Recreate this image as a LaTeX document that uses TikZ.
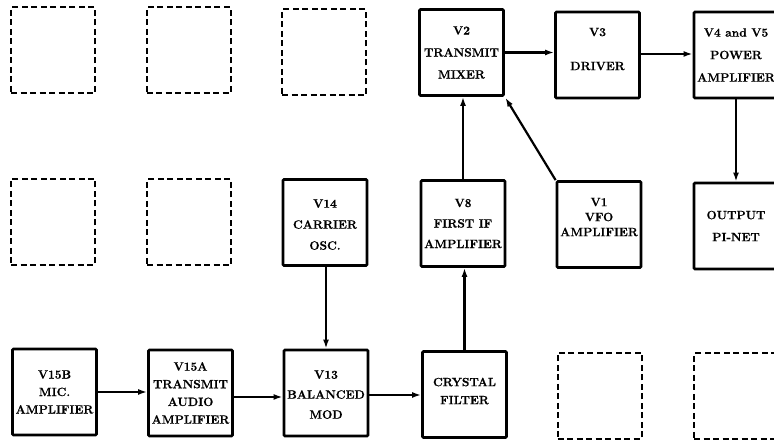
\documentclass[tikz,border=0pt]{standalone}
\usepackage{fontspec}
\setmainfont{Latin Modern Roman}[BoldFeatures={FakeBold=0.8}]
\usetikzlibrary{arrows.meta}
\newcommand\mydp[1]{\rule[-#1]{0pt}{#1}}
\newcommand\myht[1]{\rule{0pt}{#1}}
\tikzset{
  x=1pt, y=1pt,
  blk/.style={draw, line width=2.8pt, rounded corners=1pt, minimum width=84pt, minimum height=86pt, align=center, inner sep=0pt},
  dbox/.style={draw, line width=2pt, dash pattern=on 6pt off 3.5pt, minimum width=84pt, minimum height=86pt, inner sep=0pt},
  ls/.style={font=\fontsize{12}{#1}\selectfont\bfseries},
  conn/.style={line width=2.2pt, -{Latex[length=9pt,width=6pt]}}
}
\begin{document}
\begin{tikzpicture}
\useasboundingbox (0,0) rectangle (774,443);
% dashed placeholders
\node[dbox] (d1) at (53,392.5) {};
\node[dbox] (d2) at (188.5,392.5) {};
\node[dbox] (d3) at (324,390.5) {};
\node[dbox] (d4) at (53,221) {};
\node[dbox] (d5) at (189,220.5) {};
\node[dbox] (d6) at (599.5,47) {};
\node[dbox] (d7) at (736,46.5) {};
% solid blocks
\node[blk, ls=22] (v2) at (461.5,390.5) {V2\\TRANSMIT\\MIXER};
\node[blk, ls=34] (v3) at (597.5,388) {V3\\DRIVER\mydp{12pt}};
\node[blk, ls=22.5] (v45) at (736,388) {V4 and V5\\POWER\\AMPLIFIER};
\node[blk, ls=21] (v14) at (325,220.5) {\myht{12.5pt}V14\\CARRIER\\OSC.};
\node[blk, ls=20.5] (v8) at (463,219.5) {V8\\FIRST IF\\AMPLIFIER};
\node[blk, ls=15] (v1) at (599,218.5) {V1\\VFO\\AMPLIFIER\mydp{15pt}};
\node[blk, ls=22] (out) at (736,217) {OUTPUT\\PI-NET};
\node[blk, ls=17.5] (v15b) at (54.5,51) {V15B\\MIC.\\AMPLIFIER};
\node[blk, ls=17.7] (v15a) at (190.5,50) {V15A\\TRANSMIT\\AUDIO\\AMPLIFIER};
\node[blk, ls=20] (v13) at (326,50) {\myht{11.5pt}V13\\BALANCED\\MOD};
\node[blk, ls=18] (cf) at (464.5,48.5) {CRYSTAL\\FILTER\mydp{7pt}};
% connectors
\draw[conn] (v15b.east) -- (v15b.east -| v15a.west);
\draw[conn] ([yshift=-4pt]v15a.east) -- ([yshift=-4pt]v15a.east -| v13.west);
\draw[conn] ([yshift=-2pt]v13.east) -- ([yshift=-2pt]v13.east -| cf.west);
\draw[conn] (cf.north) -- (cf.north |- v8.south);
\draw[conn] (v8.north) -- (v8.north |- v2.south);
\draw[conn] (v13.north |- v14.south) -- (v13.north);
\draw[conn] (v2.east) -- (v2.east -| v3.west);
\draw[conn] ([yshift=1pt]v3.east) -- ([yshift=1pt]v3.east -| v45.west);
\draw[conn] (v45.south) -- (v45.south |- out.north);
\draw[conn, shorten >=1pt] (v1.north west) -- (v2.south east);
\end{tikzpicture}
\end{document}
